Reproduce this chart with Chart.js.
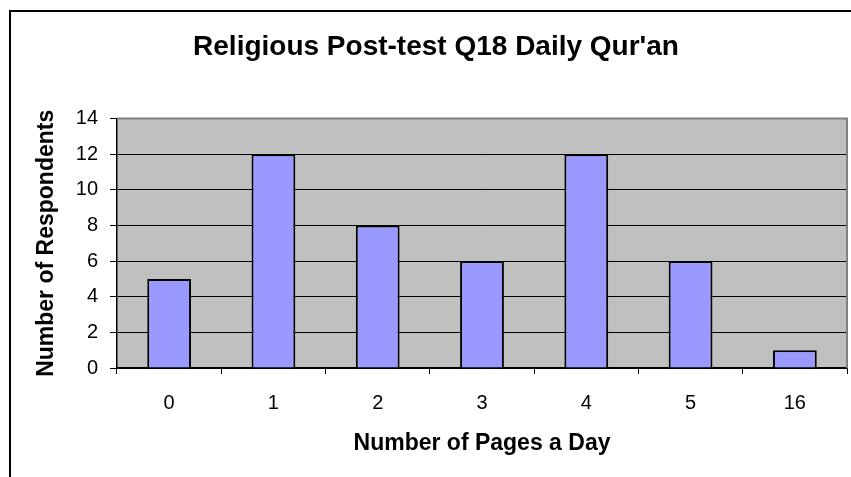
<!DOCTYPE html>
<html>
<head>
<meta charset="utf-8">
<script src="https://cdn.jsdelivr.net/npm/chart.js@4.4.1/dist/chart.umd.min.js"></script>
<style>
    html, body { margin: 0; padding: 0; background: #fff; }
</style>
</head>
<body>
<canvas id="myBarChart" width="851" height="477"></canvas>
<script>
// data
const pages = ['0', '1', '2', '3', '4', '5', '16'];
const respondents = [5, 12, 8, 6, 12, 6, 1];
const yMin = 0;
const yMax = 14;
const yStep = 2;

const font = 'Liberation Sans, Arial, sans-serif';

// gray plot area + outer frame, Excel style
const excelFrame = {
    id: 'excelFrame',
    beforeDraw(chart) {
        const { ctx, chartArea: a } = chart;
        ctx.save();
        ctx.fillStyle = '#fff';
        ctx.fillRect(0, 0, chart.width, chart.height);
        ctx.fillStyle = '#C0C0C0';
        ctx.fillRect(a.left, a.top, a.right - a.left, a.bottom - a.top);
        ctx.strokeStyle = '#000';
        ctx.lineWidth = 2;
        ctx.strokeRect(10, 11, chart.width + 20, chart.height + 20);
        ctx.restore();
    },
    beforeDatasetsDraw(chart) {
        const { ctx, chartArea: a } = chart;
        ctx.save();
        ctx.strokeStyle = '#808080';
        ctx.lineWidth = 2;
        ctx.beginPath();
        ctx.moveTo(a.left, a.top);
        ctx.lineTo(a.right, a.top);
        ctx.lineTo(a.right, a.bottom);
        ctx.stroke();
        ctx.restore();
    }
};

const ctx = document.getElementById('myBarChart').getContext('2d');
const myBarChart = new Chart(ctx, {
    type: 'bar',
    data: {
        labels: pages,
        datasets: [
            {
                label: 'Respondents',
                data: respondents,
                backgroundColor: '#9999FF',
                borderColor: '#000',
                borderWidth: 2,
                barPercentage: 0.42,
                categoryPercentage: 1
            }
        ]
    },
    plugins: [excelFrame],
    options: {
        responsive: false,
        animation: false,
        layout: {
            padding: { left: 25, right: 4, top: 0, bottom: 0 }
        },
        scales: {
            x: {
                offset: true,
                grid: {
                    offset: true,
                    drawOnChartArea: false,
                    color: '#000',
                    tickLength: 6
                },
                border: { color: '#000', width: 1.5 },
                ticks: {
                    color: '#000',
                    padding: 17,
                    font: { family: font, size: 20 }
                },
                title: {
                    display: true,
                    text: 'Number of Pages a Day',
                    color: '#000',
                    font: { family: font, size: 23, weight: 'bold' },
                    padding: { top: 0, bottom: 20 }
                },
                afterFit: scale => { scale.height = 109; }
            },
            y: {
                min: yMin,
                max: yMax,
                ticks: {
                    stepSize: yStep,
                    color: '#000',
                    padding: 12,
                    font: { family: font, size: 20 }
                },
                grid: {
                    color: c => c.tick && c.tick.value === yMax ? '#808080' : '#000',
                    tickColor: '#000',
                    tickLength: 7,
                    lineWidth: 1
                },
                border: { color: '#000', width: 1.5 },
                title: {
                    display: true,
                    text: 'Number of Respondents',
                    color: '#000',
                    font: { family: font, size: 23, weight: 'bold' },
                    padding: { top: 8, bottom: 0 }
                },
                afterFit: scale => { scale.width = 92; }
            }
        },
        plugins: {
            legend: { display: false },
            tooltip: { enabled: false },
            title: {
                display: true,
                text: "Religious Post-test Q18 Daily Qur'an",
                color: '#000',
                font: { family: font, size: 28, weight: 'bold' },
                padding: { top: 30, bottom: 55 }
            }
        }
    }
});
</script>
</body>
</html>
